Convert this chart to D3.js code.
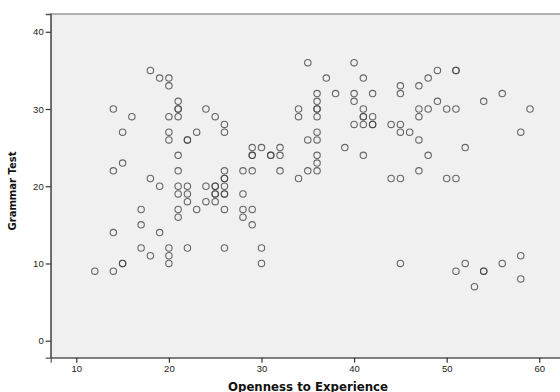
<!DOCTYPE html>
<html><head><meta charset="utf-8">
<script src="https://cdn.jsdelivr.net/npm/d3@7/dist/d3.min.js"></script>
<style>body{margin:0;background:#fff}svg{display:block}</style>
</head><body><svg id="c" width="560" height="392"></svg>
<script>
const openness = [12,14,15,15,20,20,18,17,20,22,26,30,30,14,19,17,21,17,21,23,26,28,29,28,29,22,24,25,21,22,25,25,26,26,28,19,21,22,24,25,25,26,18,26,26,34,14,21,26,28,29,32,35,36,15,36,21,29,29,31,31,32,36,41,29,30,32,39,20,22,22,35,36,15,20,23,26,36,26,40,41,42,42,16,20,21,25,34,36,41,41,42,14,21,21,24,34,36,36,41,21,36,40,36,38,40,42,20,19,20,37,41,18,35,40,
44,45,45,47,45,56,49,54,47,48,50,51,59,47,48,49,51,51,45,46,58,47,52,48,47,44,45,50,51,45,52,51,54,54,56,58,58,53];
const grammar = [9,9,10,10,10,11,11,12,12,12,12,12,10,14,14,15,16,17,17,17,17,17,17,16,15,18,18,18,19,19,19,19,19,19,19,20,20,20,20,20,20,20,21,21,21,21,22,22,22,22,22,22,22,22,23,23,24,24,24,24,24,24,24,24,25,25,25,25,26,26,26,26,26,27,27,27,27,27,28,28,28,28,28,29,29,29,29,29,29,29,29,29,30,30,30,30,30,30,30,30,31,31,31,32,32,32,32,33,34,34,34,34,35,36,36,
28,28,33,33,32,32,31,31,30,30,30,30,30,29,34,35,35,35,27,27,27,26,25,24,22,21,21,21,21,10,10,9,9,9,10,11,8,7];
const xTicks = [10,20,30,40,50,60];
const yTicks = [0,10,20,30,40];
const xTitle = "Openness to Experience";
const yTitle = "Grammar Test";

const svg = d3.select("#c");
const L = 50.7, R = 561.5, T = 14, B = 357.7;
const x = d3.scaleLinear().domain([7.235, 62.4]).range([L, R]);
const y = d3.scaleLinear().domain([-2.2, 42.3]).range([B, T]);

svg.append("rect").attr("x", L).attr("y", T).attr("width", R - L).attr("height", B - T)
  .attr("fill", "#f0f0f0").attr("stroke", "#8c8c8c").attr("stroke-width", 1.3);

const xa = svg.append("g").attr("transform", `translate(0,${B})`)
  .call(d3.axisBottom(x).tickValues(xTicks).tickSize(5).tickPadding(2.5).tickFormat(d3.format("d")));
const ya = svg.append("g").attr("transform", `translate(${L},0)`)
  .call(d3.axisLeft(y).tickValues(yTicks).tickSize(5).tickPadding(2).tickFormat(d3.format("d")));
[xa, ya].forEach(a => {
  a.select(".domain").attr("stroke", "#666").attr("stroke-width", 1.3);
  a.selectAll(".tick line").attr("stroke", "#333").attr("stroke-width", 1.2);
  a.selectAll(".tick text").attr("fill", "#222").style("font", "9.5px Arial, 'Liberation Sans', sans-serif");
});
ya.select(".domain").attr("stroke", "#555");

svg.append("g").selectAll("circle").data(openness.map((v, i) => [v, grammar[i]]))
  .join("circle")
  .attr("cx", d => x(d[0])).attr("cy", d => y(d[1])).attr("r", 3.2)
  .attr("fill", "none").attr("stroke", "#444").attr("stroke-opacity", 0.8).attr("stroke-width", 1.1);

svg.append("text").attr("x", 308).attr("y", 390.5).attr("text-anchor", "middle")
  .attr("textLength", 160).attr("lengthAdjust", "spacingAndGlyphs")
  .style("font", "bold 11.5px 'DejaVu Sans', Arial, sans-serif").attr("fill", "#111").text(xTitle);
svg.append("text").attr("transform", "translate(16,191) rotate(-90)").attr("text-anchor", "middle")
  .attr("textLength", 79).attr("lengthAdjust", "spacingAndGlyphs")
  .style("font", "bold 10.5px 'DejaVu Sans', Arial, sans-serif").attr("fill", "#111").text(yTitle);
</script></body></html>
